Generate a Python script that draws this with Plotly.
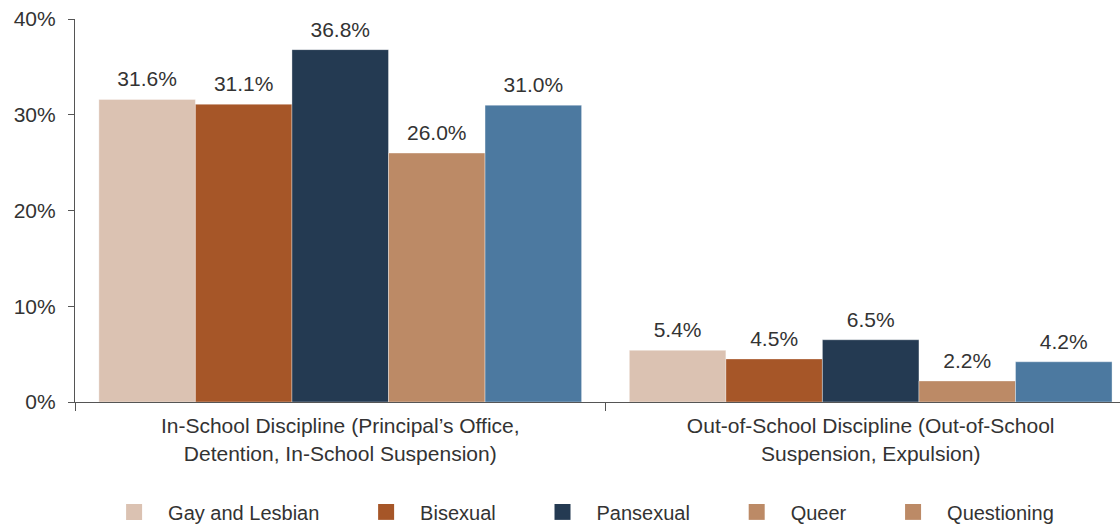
import plotly.graph_objects as go

# Discipline categories (two-line axis labels)
categories = [
    "In-School Discipline (Principal’s Office,<br>Detention, In-School Suspension)",
    "Out-of-School Discipline (Out-of-School<br>Suspension, Expulsion)",
]

# Percentage of students in each group
groups = ["Gay and Lesbian", "Bisexual", "Pansexual", "Queer", "Questioning"]
gay_lesbian = [31.6, 5.4]
bisexual = [31.1, 4.5]
pansexual = [36.8, 6.5]
queer = [26.0, 2.2]
questioning = [31.0, 4.2]
series = [gay_lesbian, bisexual, pansexual, queer, questioning]

bar_colors = ["#dbc2b2", "#a65628", "#243a52", "#bc8a66", "#4c79a0"]
legend_colors = ["#dbc2b2", "#a65628", "#243a52", "#bc8a66", "#bc8a66"]

y_ticks = [0, 10, 20, 30, 40]
y_tick_labels = ["0%", "10%", "20%", "30%", "40%"]

TEXT = "#333333"
AXIS = "#555555"
FONT = "Liberation Sans"
PAD = "\u00a0" * 5  # extra spacing after each legend label

fig = go.Figure()

# Bars
for name, vals, color in zip(groups, series, bar_colors):
    fig.add_trace(go.Bar(
        x=categories,
        y=vals,
        name=name,
        marker=dict(color=color, line=dict(width=0.6, color="rgba(255,255,255,0.6)")),
        showlegend=False,
        hoverinfo="x+y+name",
    ))

# Value labels, grouped the same way as the bars
for name, vals in zip(groups, series):
    fig.add_trace(go.Scatter(
        x=categories,
        y=vals,
        mode="markers+text",
        text=[f"{v:.1f}%" for v in vals],
        textposition="top center",
        textfont=dict(family=FONT, size=21, color=TEXT),
        marker=dict(size=11, opacity=0),
        cliponaxis=False,
        showlegend=False,
        hoverinfo="skip",
    ))

# Legend entries (kept on a hidden overlay axis so they don't take part in grouping)
for name, color in zip(groups, legend_colors):
    fig.add_trace(go.Scatter(
        x=[None],
        y=[None],
        mode="markers",
        name=name + PAD,
        marker=dict(symbol="square", size=16, color=color),
        xaxis="x2",
        yaxis="y2",
        showlegend=True,
    ))

fig.update_layout(
    width=1120,
    height=525,
    margin=dict(l=75, r=0, t=19, b=123, autoexpand=False),
    paper_bgcolor="white",
    plot_bgcolor="white",
    barmode="group",
    bargap=0.09,
    bargroupgap=0,
    scattermode="group",
    scattergap=0.09,
    showlegend=True,
    legend=dict(
        orientation="h",
        x=0.53,
        xanchor="center",
        xref="container",
        y=0.025,
        yanchor="middle",
        yref="container",
        font=dict(family=FONT, size=20, color=TEXT),
        itemsizing="trace",
        itemwidth=58,
        traceorder="normal",
    ),
    xaxis=dict(
        type="category",
        range=[-0.5, 1.47],
        showline=True,
        linecolor=AXIS,
        linewidth=1.2,
        ticks="outside",
        tickson="boundaries",
        ticklen=8,
        tickcolor=AXIS,
        ticklabelstandoff=5,
        tickfont=dict(family=FONT, size=21, color=TEXT),
        showgrid=False,
        zeroline=False,
    ),
    yaxis=dict(
        range=[0, 40],
        tickvals=y_ticks,
        ticktext=y_tick_labels,
        showline=True,
        linecolor=AXIS,
        linewidth=1.2,
        ticks="outside",
        ticklen=6,
        tickcolor=AXIS,
        ticklabelstandoff=8,
        tickfont=dict(family=FONT, size=21, color=TEXT),
        showgrid=False,
        zeroline=False,
    ),
    xaxis2=dict(overlaying="x", visible=False),
    yaxis2=dict(overlaying="y", visible=False),
)

fig.write_html("out.html")
